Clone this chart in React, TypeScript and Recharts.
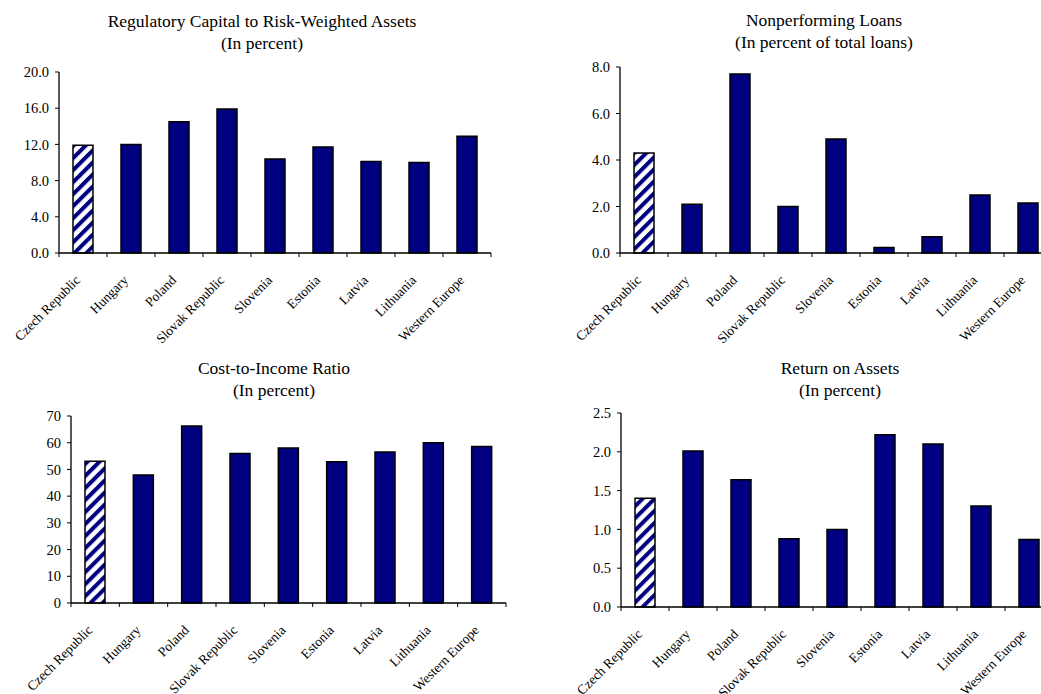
import React from 'react';
import { BarChart, Bar, XAxis, YAxis, Cell } from 'recharts';

const countries = [
  'Czech Republic', 'Hungary', 'Poland', 'Slovak Republic', 'Slovenia',
  'Estonia', 'Latvia', 'Lithuania', 'Western Europe',
];

const capitalRatio = [11.9, 12.0, 14.5, 15.9, 10.4, 11.7, 10.1, 10.0, 12.9];
const nplRatio = [4.3, 2.1, 7.7, 2.0, 4.9, 0.24, 0.7, 2.5, 2.15];
const costIncome = [53.1, 47.9, 66.3, 56.0, 58.0, 52.9, 56.5, 60.0, 58.6];
const returnOnAssets = [1.4, 2.01, 1.64, 0.88, 1.0, 2.22, 2.1, 1.3, 0.87];

const capitalTicks = [0, 4, 8, 12, 16, 20];
const nplTicks = [0, 2, 4, 6, 8];
const costTicks = [0, 10, 20, 30, 40, 50, 60, 70];
const roaTicks = [0, 0.5, 1.0, 1.5, 2.0, 2.5];

const NAVY = '#000080';
const FONT = '"Liberation Serif", "Times New Roman", serif';

const CategoryTick = (props: any) => {
  const { x, y, payload, index, band } = props;
  const half = payload && payload.offset ? payload.offset : band / 2;
  const isLast = index === countries.length - 1;
  const tx = x - 2;
  const ty = y + 28;
  return (
    <g>
      <line x1={x - half} y1={y} x2={x - half} y2={y + 4} stroke="#000" />
      {isLast && <line x1={x + half} y1={y} x2={x + half} y2={y + 4} stroke="#000" />}
      <text
        x={tx}
        y={ty}
        transform={`rotate(-45, ${tx}, ${ty})`}
        textAnchor="end"
        fontSize={13.5}
        fontFamily={FONT}
        fill="#000"
      >
        {payload.value}
      </text>
    </g>
  );
};

interface PanelProps {
  id: string;
  title: string;
  subtitle: string;
  values: number[];
  ticks: number[];
  decimals: number;
  left: number;
  top: number;
  width: number;
  height: number;
  plotLeft: number;
  plotTop: number;
  plotRight: number;
  plotBottom: number;
  titleX: number;
  titleY: number;
}

const Panel: React.FC<PanelProps> = (p) => {
  const data = countries.map((name, i) => ({ name, value: p.values[i] }));
  const band = (p.plotRight - p.plotLeft) / countries.length;
  const max = p.ticks[p.ticks.length - 1];
  return (
    <>
      <div
        style={{
          position: 'absolute', left: p.titleX - 200, top: p.titleY, width: 400,
          textAlign: 'center', fontFamily: FONT, fontSize: 17.5, lineHeight: '22px', color: '#000',
        }}
      >
        <div>{p.title}</div>
        <div>{p.subtitle}</div>
      </div>
      <div style={{ position: 'absolute', left: p.left, top: p.top }}>
        <BarChart
          width={p.width}
          height={p.height}
          data={data}
          margin={{ top: p.plotTop, right: p.width - p.plotRight, left: 0, bottom: 0 }}
          barSize={20}
        >
          <defs>
            <pattern id={`hatch-${p.id}`} patternUnits="userSpaceOnUse" width={8.5} height={8.5} patternTransform="rotate(45)">
              <rect x={0} y={0} width={8.5} height={8.5} fill="#fff" />
              <rect x={0} y={0} width={4} height={8.5} fill={NAVY} />
            </pattern>
          </defs>
          <XAxis
            xAxisId="top"
            orientation="top"
            dataKey="name"
            height={0}
            tick={false}
            tickLine={false}
            axisLine={{ stroke: '#808080' }}
          />
          <YAxis
            yAxisId="border"
            orientation="right"
            width={0}
            tick={false}
            tickLine={false}
            axisLine={{ stroke: '#808080' }}
          />
          <XAxis
            dataKey="name"
            height={p.height - p.plotBottom}
            interval={0}
            tickLine={false}
            tickSize={0}
            tickMargin={0}
            axisLine={{ stroke: '#000', strokeWidth: 1.3 }}
            tick={<CategoryTick band={band} />}
          />
          <YAxis
            width={p.plotLeft}
            domain={[0, max]}
            ticks={p.ticks}
            interval={0}
            tickSize={4}
            tickMargin={6}
            tickFormatter={(v: number) => v.toFixed(p.decimals)}
            tick={{ fontSize: 14.5, fontFamily: FONT, fill: '#000' }}
            axisLine={{ stroke: '#000', strokeWidth: 1.3 }}
            tickLine={{ stroke: '#000' }}
          />
          <Bar dataKey="value" stroke="#000" strokeWidth={1.5} isAnimationActive={false}>
            {data.map((d, i) => (
              <Cell key={d.name} fill={i === 0 ? `url(#hatch-${p.id})` : NAVY} />
            ))}
          </Bar>
        </BarChart>
      </div>
    </>
  );
};

export default function App() {
  return (
    <div
      style={{
        position: 'fixed', left: 0, top: 0, width: 1041, height: 694,
        overflow: 'hidden', background: '#fff',
      }}
    >
      <style>{'.recharts-surface { overflow: visible; }'}</style>
      <Panel
        id="cap" title="Regulatory Capital to Risk-Weighted Assets" subtitle="(In percent)"
        values={capitalRatio} ticks={capitalTicks} decimals={1}
        left={0} top={0} width={520} height={345}
        plotLeft={59} plotTop={72} plotRight={491} plotBottom={253}
        titleX={262} titleY={10}
      />
      <Panel
        id="npl" title="Nonperforming Loans" subtitle="(In percent of total loans)"
        values={nplRatio} ticks={nplTicks} decimals={1}
        left={520} top={0} width={540} height={345}
        plotLeft={100} plotTop={67} plotRight={532} plotBottom={253}
        titleX={824} titleY={9}
      />
      <Panel
        id="cost" title="Cost-to-Income Ratio" subtitle="(In percent)"
        values={costIncome} ticks={costTicks} decimals={0}
        left={0} top={330} width={520} height={364}
        plotLeft={71} plotTop={86} plotRight={506} plotBottom={273}
        titleX={274} titleY={357}
      />
      <Panel
        id="roa" title="Return on Assets" subtitle="(In percent)"
        values={returnOnAssets} ticks={roaTicks} decimals={1}
        left={520} top={330} width={540} height={364}
        plotLeft={101} plotTop={83} plotRight={533} plotBottom={277}
        titleX={840} titleY={357}
      />
    </div>
  );
}
